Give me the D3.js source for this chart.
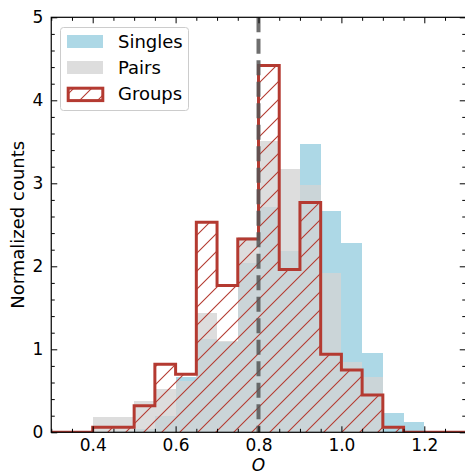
<!DOCTYPE html>
<html>
<head>
<meta charset="utf-8">
<script src="https://cdn.jsdelivr.net/npm/d3@7"></script>
<style>
  body { margin: 0; background: #fff; }
  svg { display: block; font-family: "DejaVu Sans", sans-serif; }
</style>
</head>
<body>
<div id="canvas"></div>
<script>
"use strict";

let svgWidth = 465;
let svgHeight = 475;

// bin left edges (width 0.05)
let binStarts = [0.30, 0.35, 0.40, 0.45, 0.50, 0.55, 0.60, 0.65, 0.70, 0.75,
                 0.80, 0.85, 0.90, 0.95, 1.00, 1.05, 1.10, 1.15, 1.20, 1.25];
let binWidth = 0.05;

let singles = [0, 0, 0, 0.02, 0.04, 0.20, 0.67, 1.13, 1.09, 2.04,
               2.72, 2.19, 3.47, 2.67, 2.28, 0.95, 0.23, 0.13, 0, 0];
let pairs   = [0, 0, 0.18, 0.18, 0.38, 0.52, 0.62, 1.44, 1.10, 2.35,
               3.51, 3.17, 2.98, 1.92, 0.85, 0.67, 0, 0, 0, 0];
let groups  = [0, 0, 0.06, 0.06, 0.32, 0.82, 0.70, 2.53, 1.77, 2.33,
               4.42, 1.96, 2.77, 0.94, 0.75, 0.45, 0.06, 0, 0, 0];

let xTicksMajor = [0.4, 0.6, 0.8, 1.0, 1.2];
let yTicksMajor = [0, 1, 2, 3, 4, 5];
let refLine = 0.8;

let legendNames = ["Singles", "Pairs", "Groups"];

let red = "#b43a31";
let blue = "#add8e6";
let grey = "#d3d3d3";
let greyAlpha = 0.78;

let svg = d3.select("#canvas")
  .append("svg")
  .attr("width", svgWidth)
  .attr("height", svgHeight);

let xScale = d3.scaleLinear().domain([0.3, 1.3]).range([51.25, 465.75]);
let yScale = d3.scaleLinear().domain([0, 5]).range([432.3, 17.3]);

// hatch pattern
let defs = svg.append("defs");
let pat = defs.append("pattern")
  .attr("id", "hatch")
  .attr("patternUnits", "userSpaceOnUse")
  .attr("width", 18).attr("height", 18);
pat.append("path")
  .attr("d", "M-2,2 L2,-2 M0,18 L18,0 M16,20 L20,16")
  .attr("stroke", red)
  .attr("stroke-width", 1.1);

defs.append("clipPath").attr("id", "plotclip")
  .append("rect")
  .attr("x", xScale(0.3)).attr("y", yScale(5))
  .attr("width", xScale(1.3) - xScale(0.3))
  .attr("height", yScale(0) - yScale(5));

let plot = svg.append("g").attr("clip-path", "url(#plotclip)");

/* bars */
function drawBars(values, color, opacity) {
  plot.append("g").selectAll("rect")
    .data(binStarts)
    .enter()
    .append("rect")
    .attr("x", function(d){ return xScale(d); })
    .attr("width", function(d){ return xScale(d + binWidth) - xScale(d); })
    .attr("y", function(d, i){ return yScale(values[i]); })
    .attr("height", function(d, i){ return yScale(0) - yScale(values[i]); })
    .attr("fill", color)
    .attr("fill-opacity", opacity)
    .attr("shape-rendering", "crispEdges");
}
drawBars(singles, blue, 1);
drawBars(pairs, grey, greyAlpha);

// groups: step outline with hatch
let stepPts = [[xScale(binStarts[0]), yScale(0)]];
binStarts.forEach(function(d, i){
  stepPts.push([xScale(d), yScale(groups[i])]);
  stepPts.push([xScale(d + binWidth), yScale(groups[i])]);
});
stepPts.push([xScale(binStarts[binStarts.length - 1] + binWidth), yScale(0)]);

plot.append("path")
  .attr("d", d3.line()(stepPts) + "Z")
  .attr("fill", "url(#hatch)")
  .attr("stroke", "none");
plot.append("path")
  .attr("d", d3.line()(stepPts))
  .attr("fill", "none")
  .attr("stroke", red)
  .attr("stroke-width", 3)
  .attr("stroke-linejoin", "miter");

// reference line
plot.append("line")
  .attr("x1", xScale(refLine)).attr("x2", xScale(refLine))
  .attr("y1", yScale(5)).attr("y2", yScale(0))
  .attr("stroke", "#555")
  .attr("stroke-opacity", 0.85)
  .attr("stroke-width", 4)
  .attr("stroke-dasharray", "15,6.5");

/* axes: ticks inside on all sides */
let xMinor = d3.range(0.3, 1.3001, 0.05).filter(function(v){
  return !xTicksMajor.some(function(m){ return Math.abs(m - v) < 1e-6; });
});
let yMinor = d3.range(0, 5.0001, 0.2).filter(function(v){
  return !yTicksMajor.some(function(m){ return Math.abs(m - v) < 1e-6; });
});

function axisG(axis, tx, ty) {
  let g = svg.append("g")
    .attr("transform", "translate(" + tx + "," + ty + ")")
    .call(axis);
  g.select(".domain").remove();
  g.selectAll("line").attr("stroke", "#000").attr("stroke-width", 1);
  g.selectAll("text")
    .style("font-size", "17px")
    .style("font-family", "DejaVu Sans")
    .attr("fill", "#000");
  return g;
}

let x0 = xScale(0.3), x1 = xScale(1.3), y0 = yScale(0), y1 = yScale(5);

// bottom
axisG(d3.axisBottom(xScale).tickValues(xTicksMajor).tickSize(-6).tickPadding(7)
  .tickFormat(d3.format(".1f")), 0, y0);
axisG(d3.axisBottom(xScale).tickValues(xMinor).tickSize(-3.5).tickFormat(""), 0, y0);
// top
axisG(d3.axisTop(xScale).tickValues(xTicksMajor).tickSize(-6).tickFormat(""), 0, y1);
axisG(d3.axisTop(xScale).tickValues(xMinor).tickSize(-3.5).tickFormat(""), 0, y1);
// left
axisG(d3.axisLeft(yScale).tickValues(yTicksMajor).tickSize(-6).tickPadding(8)
  .tickFormat(d3.format("d")), x0, 0);
axisG(d3.axisLeft(yScale).tickValues(yMinor).tickSize(-3.5).tickFormat(""), x0, 0);
// right
axisG(d3.axisRight(yScale).tickValues(yTicksMajor).tickSize(-6).tickFormat(""), x1, 0);
axisG(d3.axisRight(yScale).tickValues(yMinor).tickSize(-3.5).tickFormat(""), x1, 0);

// frame
svg.append("rect")
  .attr("x", x0).attr("y", y1)
  .attr("width", x1 - x0).attr("height", y0 - y1)
  .attr("fill", "none")
  .attr("stroke", "#000")
  .attr("stroke-width", 1.2);

// axis labels
svg.append("text")
  .attr("x", xScale(0.8))
  .attr("y", 471)
  .attr("text-anchor", "middle")
  .style("font-size", "17px")
  .style("font-style", "italic")
  .text("O");

svg.append("text")
  .attr("transform", "translate(24," + ((y0 + y1) / 2) + ") rotate(-90)")
  .attr("text-anchor", "middle")
  .style("font-size", "18px")
  .text("Normalized counts");

/* legend */
let leg = svg.append("g");
leg.append("rect")
  .attr("x", 60.5).attr("y", 27.5)
  .attr("width", 128).attr("height", 83)
  .attr("rx", 3)
  .attr("fill", "#fff").attr("fill-opacity", 0.8)
  .attr("stroke", "#ccc");

let legFills = [blue, grey, "url(#hatch)"];
legendNames.forEach(function(name, i){
  let yy = 35 + i * 26;
  if (i < 2) {
    leg.append("rect")
      .attr("x", 67).attr("y", yy)
      .attr("width", 36).attr("height", 13)
      .attr("fill", legFills[i])
      .attr("fill-opacity", i === 1 ? greyAlpha : 1);
  } else {
    leg.append("rect")
      .attr("x", 68.2).attr("y", yy + 1.2)
      .attr("width", 34.6).attr("height", 12.4)
      .attr("fill", "url(#hatch)")
      .attr("stroke", red)
      .attr("stroke-width", 3);
  }
  leg.append("text")
    .attr("x", 118)
    .attr("y", yy + 13)
    .style("font-size", "18px")
    .text(name);
});
</script>
</body>
</html>
